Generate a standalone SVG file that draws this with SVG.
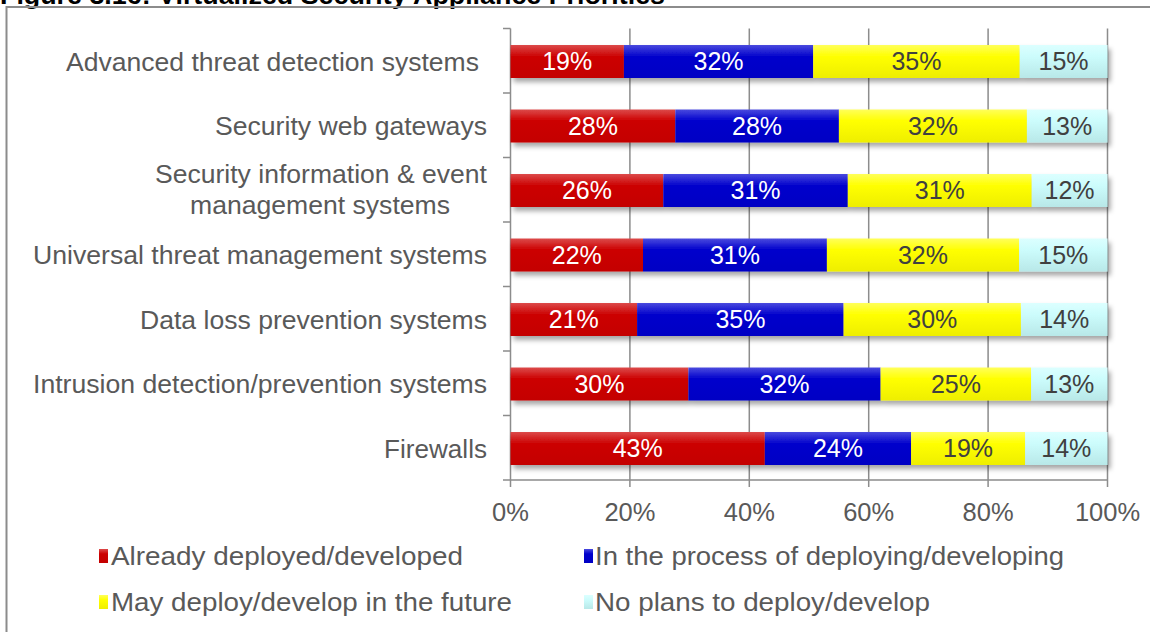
<svg xmlns="http://www.w3.org/2000/svg" width="1150" height="632" viewBox="0 0 1150 632">
<defs>
<linearGradient id="gr" x1="0" y1="0" x2="0" y2="1"><stop offset="0" stop-color="#dc4a4a"/><stop offset="0.35" stop-color="#cc0000"/><stop offset="1" stop-color="#c40000"/></linearGradient>
<linearGradient id="gb" x1="0" y1="0" x2="0" y2="1"><stop offset="0" stop-color="#4a4ade"/><stop offset="0.35" stop-color="#0000cc"/><stop offset="1" stop-color="#0000c4"/></linearGradient>
<linearGradient id="gy" x1="0" y1="0" x2="0" y2="1"><stop offset="0" stop-color="#ffff5a"/><stop offset="0.35" stop-color="#ffff00"/><stop offset="1" stop-color="#eeee00"/></linearGradient>
<linearGradient id="gc" x1="0" y1="0" x2="0" y2="1"><stop offset="0" stop-color="#dcffff"/><stop offset="0.35" stop-color="#ccfcfc"/><stop offset="1" stop-color="#b8e8e8"/></linearGradient>
<filter id="sh" x="-5%" y="-30%" width="115%" height="180%"><feDropShadow dx="3" dy="4" stdDeviation="2.5" flood-color="#000" flood-opacity="0.35"/></filter>
</defs>
<style>
text{font-family:"Liberation Sans",Arial,sans-serif}
.title{font-size:25px;font-weight:bold;fill:#000}
.cat{font-size:25px;fill:#595959;text-anchor:end}
.catm{font-size:25px;fill:#595959;text-anchor:middle}
.ax{font-size:25.5px;fill:#595959;text-anchor:middle}
.lg{font-size:26px;fill:#595959}
.w{font-size:25px;fill:#fff;text-anchor:middle}
.d{font-size:25px;fill:#404040;text-anchor:middle}
.grid{stroke:#8c8c8c;stroke-width:1.5;fill:none}
.r{fill:url(#gr)}.b{fill:url(#gb)}.y{fill:url(#gy)}.c{fill:url(#gc)}
</style>
<rect width="1150" height="632" fill="#fff"/>
<text class="title" x="0" y="3.5" textLength="665" lengthAdjust="spacingAndGlyphs">Figure 3.16: Virtualized Security Appliance Priorities</text>
<rect x="6.5" y="7" width="1160" height="640" fill="none" stroke="#8c8c8c" stroke-width="2"/>
<g id="axes" class="grid">
<path d="M629.9 28.5V487M749.3 28.5V487M868.7 28.5V487M988.1 28.5V487M1107.5 28.5V487"/>
<path d="M510.5 28.5V487M510.5 480H1107.5"/>
<path d="M503 28.5H510.5M503 93H510.5M503 157.5H510.5M503 222H510.5M503 286.5H510.5M503 351H510.5M503 415.5H510.5M503 480H510.5"/>
</g>
<g id="bar1" filter="url(#sh)">
<rect class="r" x="510.5" y="45" width="113.4" height="33"/><rect class="b" x="623.9" y="45" width="189.3" height="33"/><rect class="y" x="813.2" y="45" width="206.5" height="33"/><rect class="c" x="1019.7" y="45" width="87.8" height="33"/>
</g>
<g id="bar2" filter="url(#sh)">
<rect class="r" x="510.5" y="109.5" width="164.8" height="33"/><rect class="b" x="675.3" y="109.5" width="163.6" height="33"/><rect class="y" x="838.9" y="109.5" width="188" height="33"/><rect class="c" x="1026.9" y="109.5" width="80.6" height="33"/>
</g>
<g id="bar3" filter="url(#sh)">
<rect class="r" x="510.5" y="174" width="152.8" height="33"/><rect class="b" x="663.3" y="174" width="184.5" height="33"/><rect class="y" x="847.8" y="174" width="183.9" height="33"/><rect class="c" x="1031.7" y="174" width="75.8" height="33"/>
</g>
<g id="bar4" filter="url(#sh)">
<rect class="r" x="510.5" y="238.5" width="132.5" height="33"/><rect class="b" x="643" y="238.5" width="183.9" height="33"/><rect class="y" x="826.9" y="238.5" width="192.2" height="33"/><rect class="c" x="1019.1" y="238.5" width="88.4" height="33"/>
</g>
<g id="bar5" filter="url(#sh)">
<rect class="r" x="510.5" y="303" width="126.6" height="33"/><rect class="b" x="637.1" y="303" width="206.5" height="33"/><rect class="y" x="843.6" y="303" width="177.3" height="33"/><rect class="c" x="1020.9" y="303" width="86.6" height="33"/>
</g>
<g id="bar6" filter="url(#sh)">
<rect class="r" x="510.5" y="367.5" width="177.9" height="33"/><rect class="b" x="688.4" y="367.5" width="192.2" height="33"/><rect class="y" x="880.6" y="367.5" width="150.5" height="33"/><rect class="c" x="1031.1" y="367.5" width="76.4" height="33"/>
</g>
<g id="bar7" filter="url(#sh)">
<rect class="r" x="510.5" y="432" width="254.3" height="33"/><rect class="b" x="764.8" y="432" width="146.3" height="33"/><rect class="y" x="911.1" y="432" width="114" height="33"/><rect class="c" x="1025.1" y="432" width="82.4" height="33"/>
</g>
<g id="values">
<text class="w" x="567.2" y="70">19%</text><text class="w" x="718.6" y="70">32%</text><text class="d" x="916.5" y="70">35%</text><text class="d" x="1063.6" y="70">15%</text>
<text class="w" x="592.9" y="134.5">28%</text><text class="w" x="757.1" y="134.5">28%</text><text class="d" x="932.9" y="134.5">32%</text><text class="d" x="1067.2" y="134.5">13%</text>
<text class="w" x="586.9" y="199">26%</text><text class="w" x="755.6" y="199">31%</text><text class="d" x="939.8" y="199">31%</text><text class="d" x="1069.6" y="199">12%</text>
<text class="w" x="576.8" y="263.5">22%</text><text class="w" x="735" y="263.5">31%</text><text class="d" x="923" y="263.5">32%</text><text class="d" x="1063.3" y="263.5">15%</text>
<text class="w" x="573.8" y="328">21%</text><text class="w" x="740.4" y="328">35%</text><text class="d" x="932.3" y="328">30%</text><text class="d" x="1064.2" y="328">14%</text>
<text class="w" x="599.5" y="392.5">30%</text><text class="w" x="784.5" y="392.5">32%</text><text class="d" x="955.9" y="392.5">25%</text><text class="d" x="1069.3" y="392.5">13%</text>
<text class="w" x="637.7" y="457">43%</text><text class="w" x="838" y="457">24%</text><text class="d" x="968.1" y="457">19%</text><text class="d" x="1066.3" y="457">14%</text>
</g>
<g id="categories">
<text class="cat" x="479" y="70.5" textLength="413" lengthAdjust="spacingAndGlyphs">Advanced threat detection systems</text>
<text class="cat" x="487" y="135" textLength="272" lengthAdjust="spacingAndGlyphs">Security web gateways</text>
<text class="catm" x="321" y="183" textLength="332" lengthAdjust="spacingAndGlyphs">Security information &amp; event</text>
<text class="catm" x="320" y="214" textLength="260" lengthAdjust="spacingAndGlyphs">management systems</text>
<text class="cat" x="487" y="264" textLength="454" lengthAdjust="spacingAndGlyphs">Universal threat management systems</text>
<text class="cat" x="487" y="328.5" textLength="347" lengthAdjust="spacingAndGlyphs">Data loss prevention systems</text>
<text class="cat" x="487" y="393" textLength="454" lengthAdjust="spacingAndGlyphs">Intrusion detection/prevention systems</text>
<text class="cat" x="487" y="457.5" textLength="103" lengthAdjust="spacingAndGlyphs">Firewalls</text>
</g>
<g id="xlabels">
<text class="ax" x="510.5" y="521">0%</text><text class="ax" x="629.9" y="521">20%</text><text class="ax" x="749.3" y="521">40%</text><text class="ax" x="868.7" y="521">60%</text><text class="ax" x="988.1" y="521">80%</text><text class="ax" x="1107.5" y="521">100%</text>
</g>
<g id="legend">
<rect class="r" x="99" y="549" width="9" height="14"/><text class="lg" x="111" y="565" textLength="352" lengthAdjust="spacingAndGlyphs">Already deployed/developed</text>
<rect class="b" x="584" y="549" width="9" height="14"/><text class="lg" x="595" y="565" textLength="469" lengthAdjust="spacingAndGlyphs">In the process of deploying/developing</text>
<rect class="y" x="99" y="595" width="9" height="14"/><text class="lg" x="111" y="611" textLength="401" lengthAdjust="spacingAndGlyphs">May deploy/develop in the future</text>
<rect class="c" x="584" y="595" width="9" height="14"/><text class="lg" x="595" y="611" textLength="335" lengthAdjust="spacingAndGlyphs">No plans to deploy/develop</text>
</g>
</svg>
